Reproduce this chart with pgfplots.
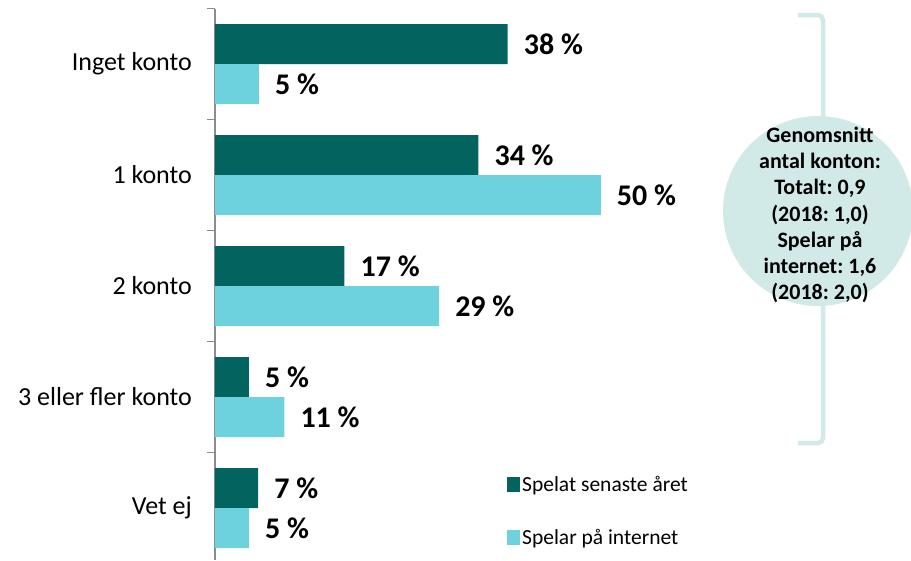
\documentclass[border=0pt]{standalone}
\usepackage{fontspec}
\setmainfont{Carlito}
\usepackage{pgfplots}
\usepackage{pgfplotstable}
\pgfplotsset{compat=1.18}
\frenchspacing
\definecolor{darkteal}{HTML}{03635F}
\definecolor{lightcyan}{HTML}{6DD2DE}
\definecolor{circcol}{HTML}{D1E9E7}
\definecolor{axgray}{HTML}{8C8C8C}
\pgfplotstableread{
y x lab
4 38.0 38
3 34.2 34
2 16.8 17
1 4.4 5
0 5.6 7
}\darktab
\pgfplotstableread{
y x lab
4 5.7 5
3 50.1 50
2 29.1 29
1 9.0 11
0 4.4 5
}\lighttab
\begin{document}
\frenchspacing
\begin{tikzpicture}[x=1pt,y=1pt]
\begin{axis}[
  at={(215pt,-560pt)}, anchor=south west,
  scale only axis, width=696pt, height=551.5pt,
  xmin=0, xmax=90.39, ymin=-0.468, ymax=4.5,
  axis x line=none,
  axis y line*=left,
  y axis line style={axgray, line width=1.5pt},
  ytick={0,1,2,3,4},
  yticklabels={Vet ej,3 eller fler konto,2 konto,1 konto,Inget konto},
  major tick length=0pt,
  yticklabel style={font=\fontsize{26}{31}\selectfont, inner sep=0pt, anchor=east, xshift=-23pt},
  extra y ticks={0.5,1.5,2.5,3.5,4.5},
  extra y tick labels={},
  extra y tick style={major tick length=8pt, tick align=outside, tick style={axgray, line width=1.5pt}},
  point meta=explicit symbolic,
  nodes near coords={\pgfplotspointmeta\ \%},
  nodes near coords style={anchor=west, inner sep=0pt, xshift=16pt, font=\bfseries\fontsize{30}{34}\selectfont, text=black},
  legend style={at={(rel axis cs:0.4195,0.156)}, anchor=north west, draw=none, fill=none,
    font=\fontsize{21.5}{26}\selectfont, inner sep=0pt, row sep=32.5pt, nodes={inner sep=2pt}},
  legend cell align=left,
  clip=false,
]
\addplot[xbar, bar width=40pt, bar shift=20pt, fill=darkteal, draw=none,
  every node near coord/.append style={yshift=20pt},
  legend image code/.code={\fill[darkteal] (0pt,-7.5pt) rectangle (13pt,7.5pt);}]
  table[x=x, y=y, meta=lab] {\darktab};
\addlegendentry{Spelat senaste året}
\addplot[xbar, bar width=40pt, bar shift=-20pt, fill=lightcyan, draw=none,
  every node near coord/.append style={yshift=-20pt},
  legend image code/.code={\fill[lightcyan] (0pt,-7.5pt) rectangle (13pt,7.5pt);}]
  table[x=x, y=y, meta=lab] {\lighttab};
\addlegendentry{Spelar på internet}
\end{axis}
\draw[circcol, line width=4.5pt, rounded corners=5pt] (798,-15) -- (823,-15) -- (823,-443) -- (798,-443);
\fill[circcol] (818,-211) circle (95);
\node[align=center, font=\bfseries\fontsize{22}{26.3}\selectfont\frenchspacing, text=black] at (820,-215)
  {Genomsnitt\\antal konton:\\Totalt: 0,9\\(2018: 1,0)\\Spelar på\\internet: 1,6\\(2018: 2,0)};
\pgfresetboundingbox
\path[use as bounding box] (0,0) rectangle (911,-560);
\end{tikzpicture}
\end{document}
